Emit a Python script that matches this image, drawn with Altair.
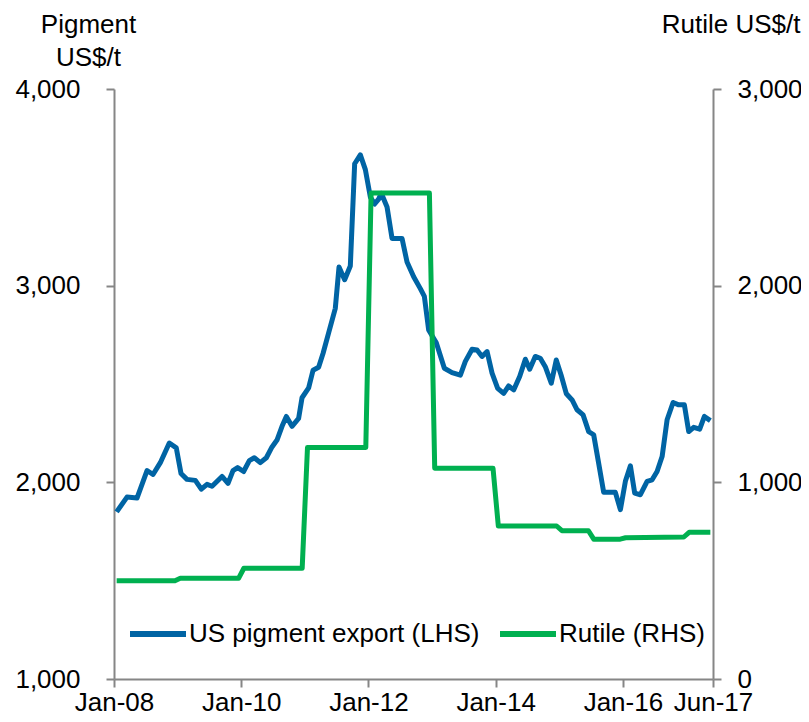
import altair as alt
import pandas as pd

# ---- data (x = months since Jan-08) ----
pig_months = [0.5, 2.45, 4.34, 6.23, 7.36, 8.74, 10.43, 11.75, 12.64, 13.77, 15.34, 16.47,
              17.55, 18.49, 20.38, 21.51, 22.45, 23.32, 24.45, 25.53, 26.47, 27.6, 28.74,
              29.81, 30.75, 31.7, 32.51, 33.58, 34.83, 35.47, 36.72, 37.55, 38.6, 39.43,
              40.49, 41.75, 42.45, 43.51, 44.58, 45.4, 46.47, 47.42, 48.36, 49.17, 49.92,
              50.43, 51.51, 52.45, 54.34, 55.28, 56.53, 57.79, 58.55, 59.36, 60.8, 62.32,
              63.77, 65.34, 66.28, 67.55, 68.49, 69.43, 70.38, 71.32, 72.38, 73.51, 74.45,
              75.4, 76.53, 77.6, 78.42, 79.47, 80.42, 81.36, 82.49, 83.43, 84.34, 85.34,
              86.42, 87.36, 88.49, 89.55, 90.49, 91.43, 92.38, 93.64, 94.58, 95.53, 96.47,
              97.42, 98.23, 99.3, 100.57, 101.51, 102.45, 103.4, 104.34, 105.47, 106.53,
              107.6, 108.42, 109.36, 110.49, 111.38, 112.5]
pig_values = [1850, 1925, 1920, 2060, 2040, 2100, 2200, 2175, 2045, 2015, 2010, 1965,
              1990, 1980, 2030, 1995, 2060, 2075, 2055, 2110, 2125, 2100, 2125,
              2180, 2215, 2285, 2335, 2285, 2325, 2430, 2480, 2570, 2585, 2655,
              2760, 2885, 3095, 3030, 3100, 3620, 3665, 3590, 3450, 3415, 3440,
              3470, 3400, 3240, 3240, 3120, 3045, 2985, 2945, 2775, 2710, 2580,
              2558, 2545, 2615, 2677, 2673, 2640, 2665, 2555, 2478, 2452, 2490,
              2470, 2538, 2626, 2575, 2640, 2631, 2588, 2504, 2622, 2546, 2450,
              2419, 2369, 2343, 2258, 2242, 2097, 1949, 1950, 1949, 1861, 2005,
              2084, 1945, 1937, 2005, 2013, 2055, 2131, 2318, 2406, 2394,
              2394, 2258, 2280, 2270, 2335, 2314]

rut_months = [0.5, 11.5, 12.5, 23.5, 24.5, 35.5, 36.5, 47.5, 48.5, 59.5, 60.5, 71.5,
              72.5, 83.5, 84.5, 89.5, 90.5, 95.5, 96.5, 107.5, 108.5, 112.5]
rut_values = [500, 500, 512, 512, 563, 563, 1177, 1177, 2471, 2471, 1072, 1072,
              778, 778, 754, 754, 711, 711, 718, 722, 746, 746]

x_tick_pos = [0, 24, 48, 72, 96, 113]
x_tick_labels = ["Jan-08", "Jan-10", "Jan-12", "Jan-14", "Jan-16", "Jun-17"]
left_ticks = [1000, 2000, 3000, 4000]
right_ticks = [0, 1000, 2000, 3000]
series_names = ["US pigment export (LHS)", "Rutile (RHS)"]
series_colors = ["#0064A4", "#00B050"]

FONT = "Liberation Sans"
FS = 26
AXIS_GREY = "#868686"

df_p = pd.DataFrame({"m": pig_months, "v": pig_values, "s": series_names[0]})
df_r = pd.DataFrame({"m": rut_months, "v": rut_values, "s": series_names[1]})

label_expr = " : ".join(
    f"datum.value == {p} ? '{l}'" for p, l in zip(x_tick_pos, x_tick_labels)
) + " : ''"

x_enc = alt.X(
    "m:Q",
    scale=alt.Scale(domain=[0, 113], nice=False, zero=False),
    axis=alt.Axis(values=x_tick_pos, labelExpr=label_expr, title=None, grid=False,
                  labelOverlap=False, labelFlush=False, tickSize=8, labelPadding=2),
)

color_enc = alt.Color(
    "s:N",
    scale=alt.Scale(domain=series_names, range=series_colors),
    legend=alt.Legend(orient="none", legendX=13, legendY=514, direction="horizontal",
                      title=None, symbolType="stroke", symbolSize=3136,
                      symbolStrokeWidth=6, labelFontSize=FS, labelFont=FONT,
                      labelColor="black", labelOffset=0, columnPadding=8,
                      labelLimit=600),
)

left = alt.Chart(df_p).mark_line(strokeWidth=5, strokeJoin="round").encode(
    x=x_enc,
    y=alt.Y("v:Q", scale=alt.Scale(domain=[1000, 4000], nice=False, zero=False),
            axis=alt.Axis(orient="left", values=left_ticks, format=",.0f", grid=False,
                          tickSize=8, labelPadding=26,
                          title=["Pigment", "US$/t"], titleAngle=0, titleX=-26,
                          titleY=-57, titleAlign="center", titleBaseline="alphabetic",
                          titleLineHeight=33)),
    color=color_enc,
)

right = alt.Chart(df_r).mark_line(strokeWidth=5, strokeJoin="round").encode(
    x=x_enc,
    y=alt.Y("v:Q", scale=alt.Scale(domain=[0, 3000], nice=False, zero=True),
            axis=alt.Axis(orient="right", values=right_ticks, format=",.0f", grid=False,
                          tickSize=8, labelPadding=16,
                          title="Rutile US$/t", titleAngle=0, titleX=87, titleY=-57,
                          titleAlign="right", titleBaseline="alphabetic")),
    color=color_enc,
)

chart = (
    alt.layer(left, right)
    .resolve_scale(y="independent")
    .properties(width=599, height=590, autosize=alt.AutoSizeParams(type="none"),
                padding={"left": 106, "top": 81, "right": 88, "bottom": 35})
    .configure_view(stroke=None)
    .configure_axis(domainColor=AXIS_GREY, tickColor=AXIS_GREY, domainWidth=2,
                    tickWidth=2, labelFont=FONT, labelFontSize=FS, labelColor="black",
                    titleFont=FONT, titleFontSize=FS, titleFontWeight="normal",
                    titleColor="black")
)

chart.save("out.html", embed_options={"renderer": "svg", "actions": False})
